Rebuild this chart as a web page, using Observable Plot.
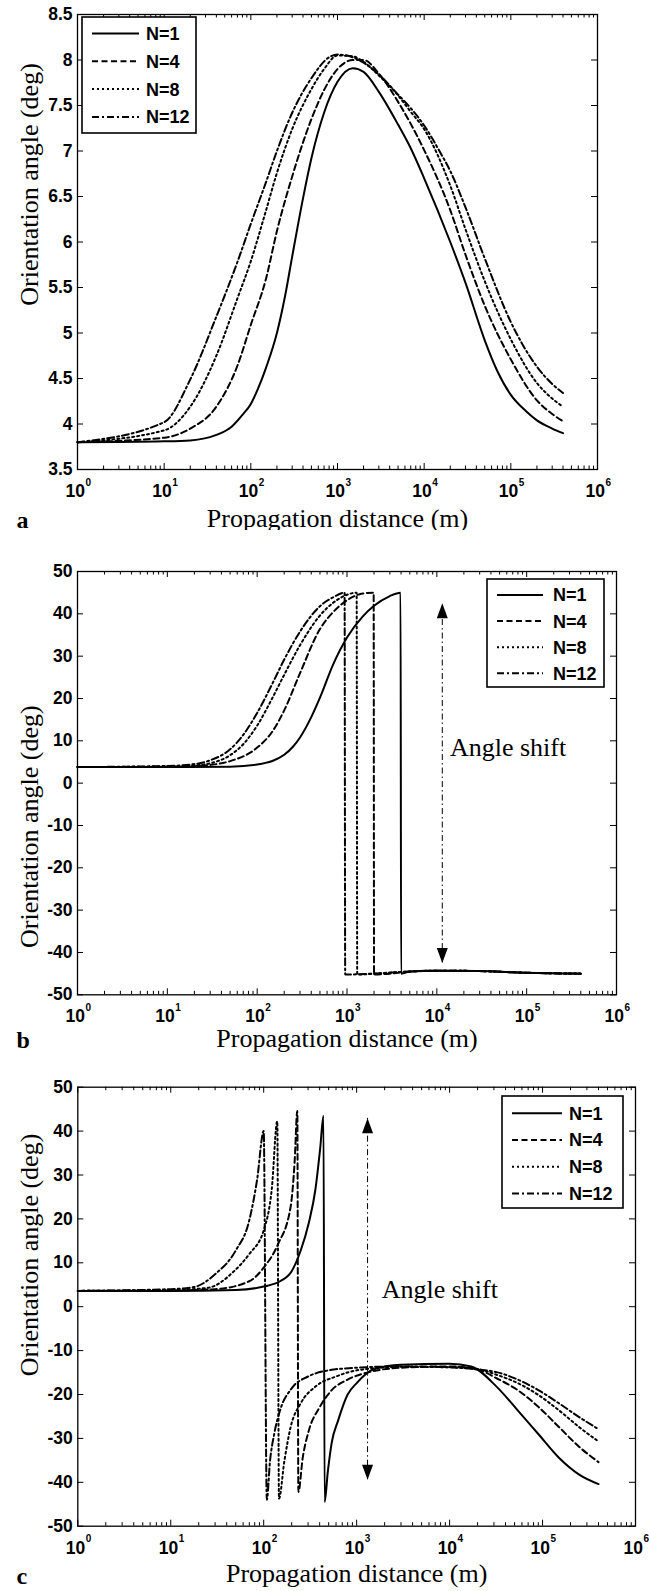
<!DOCTYPE html>
<html><head><meta charset="utf-8">
<script src="https://cdn.jsdelivr.net/npm/d3@7"></script>
<script src="https://cdn.jsdelivr.net/npm/@observablehq/plot@0.6"></script>
<style>
body{margin:0;background:#fff;}
#wrap{position:relative;width:649px;height:1591px;overflow:hidden;background:#fff}
#wrap svg{position:absolute;left:0;}
</style></head><body><div id="wrap"></div>
<script>
// ---------- shared ----------
const seriesNames = ["N=1", "N=4", "N=8", "N=12"];
const xMajor = [1, 10, 100, 1000, 1e4, 1e5, 1e6];
const xExponents = ["0", "1", "2", "3", "4", "5", "6"];
const xMinor = [];
for (let d = 1; d < 1e6; d *= 10) for (let m = 2; m <= 9; m++) xMinor.push(d * m);
const xTitle = "Propagation distance (m)";
const yTitle = "Orientation angle (deg)";
const annoText = "Angle shift";

// ---------- panel a ----------
const aTicks = [3.5, 4, 4.5, 5, 5.5, 6, 6.5, 7, 7.5, 8, 8.5];
const aN1x = [1, 10, 20, 40, 60, 80, 100, 120, 150, 200, 250, 300, 400, 500, 700, 1000, 1500, 2000, 3000, 5000, 7000, 1e4, 2e4, 3e4, 5e4, 7e4, 1e5, 1.5e5, 2e5, 3e5, 4e5];
const aN1y = [3.80, 3.81, 3.82, 3.88, 3.97, 4.10, 4.22, 4.38, 4.62, 5.00, 5.42, 5.84, 6.48, 6.92, 7.42, 7.76, 7.91, 7.87, 7.65, 7.29, 7.03, 6.70, 6.00, 5.55, 4.92, 4.58, 4.32, 4.14, 4.04, 3.95, 3.90];
const aN4x = [1, 10, 20, 40, 70, 100, 150, 200, 300, 500, 700, 1000, 1500, 2000, 3000, 5000, 1e4, 2e4, 3e4, 5e4, 1e5, 2e5, 3e5, 4e5];
const aN4y = [3.80, 3.85, 3.95, 4.19, 4.64, 5.09, 5.60, 6.12, 6.72, 7.35, 7.67, 7.90, 8.00, 8.00, 7.85, 7.54, 7.01, 6.35, 5.86, 5.30, 4.71, 4.26, 4.11, 4.03];
const aN8x = [1, 10, 20, 40, 70, 100, 150, 200, 300, 500, 700, 1000, 1500, 2000, 3000, 5000, 7000, 1e4, 2e4, 3e4, 5e4, 1e5, 2e5, 3e5, 4e5];
const aN8y = [3.80, 3.93, 4.19, 4.75, 5.38, 5.79, 6.35, 6.76, 7.24, 7.68, 7.90, 8.05, 8.04, 7.98, 7.83, 7.61, 7.43, 7.24, 6.62, 6.14, 5.57, 4.93, 4.45, 4.28, 4.19];
const aN12x = [1, 10, 20, 40, 70, 100, 150, 200, 300, 500, 800, 1000, 1500, 2000, 3000, 5000, 7000, 1e4, 1.5e4, 2e4, 3e4, 5e4, 1e5, 2e5, 3e5, 4e5];
const aN12y = [3.80, 4.02, 4.49, 5.18, 5.78, 6.20, 6.66, 7.00, 7.42, 7.80, 8.03, 8.06, 8.03, 7.97, 7.84, 7.62, 7.47, 7.28, 7.00, 6.78, 6.38, 5.82, 5.12, 4.63, 4.44, 4.34];

// ---------- panel b ----------
const bTicks = [-50, -40, -30, -20, -10, 0, 10, 20, 30, 40, 50];
const bN1x = [1, 10, 50, 100, 150, 200, 250, 300, 400, 500, 700, 1000, 1500, 2000, 3000, 3950, 4000, 5000, 1e4, 3e4, 1e5, 4e5];
const bN1y = [3.8, 3.8, 3.9, 4.4, 5.3, 6.7, 8.6, 10.8, 15.6, 20.2, 28.0, 34.4, 39.4, 41.9, 44.2, 45.0, -45.0, -44.5, -44.3, -44.4, -44.8, -45.0];
const bN4x = [1, 10, 20, 30, 50, 100, 150, 200, 300, 500, 700, 1000, 1500, 1980, 2000, 3000, 4000, 1e4, 3e4, 1e5, 4e5];
const bN4y = [3.8, 3.85, 4.0, 4.3, 5.2, 8.4, 12.4, 17.2, 26.0, 36.4, 40.4, 43.2, 44.8, 45.0, -45.2, -45.0, -44.7, -44.3, -44.4, -44.8, -45.0];
const bN8x = [1, 10, 20, 30, 50, 70, 100, 150, 200, 300, 500, 700, 1000, 1280, 1300, 2000, 4000, 1e4, 3e4, 1e5, 4e5];
const bN8y = [3.8, 3.95, 4.2, 4.7, 6.6, 9.2, 13.6, 20.4, 25.6, 32.6, 39.6, 42.6, 44.5, 45.0, -45.2, -45.0, -44.6, -44.3, -44.4, -44.8, -45.0];
const bN12x = [1, 10, 20, 30, 50, 70, 100, 150, 200, 300, 500, 700, 940, 955, 2000, 4000, 1e4, 3e4, 1e5, 4e5];
const bN12y = [3.8, 4.05, 4.5, 5.4, 8.0, 11.4, 16.6, 23.8, 29.2, 35.8, 41.8, 43.9, 45.0, -45.2, -45.0, -44.6, -44.3, -44.4, -44.8, -45.0];
const bArrow = [{x: 1.15e4, top: 42.5, bottom: -42.5}];
const bLabel = [{x: 1.4e4, y: 6.5}];

// ---------- panel c ----------
const cTicks = [-50, -40, -30, -20, -10, 0, 10, 20, 30, 40, 50];
const cN1x = [1, 10, 50, 100, 150, 200, 250, 305, 360, 405, 440, 452, 490, 540, 630, 800, 1000, 1500, 3000, 1e4, 1.7e4, 3.2e4, 5.4e4, 9e4, 1.5e5, 2.5e5, 4e5];
const cN1y = [3.6, 3.6, 3.8, 4.6, 5.8, 8.1, 12.8, 19.0, 26.7, 36.0, 43.5, -44.5, -37.5, -30.9, -26.0, -20.0, -17.4, -14.3, -13.2, -13.0, -13.6, -18.2, -23.6, -29.0, -34.4, -38.3, -40.4];
const cN4x = [1, 10, 30, 70, 100, 143, 195, 215, 230, 236, 263, 305, 400, 540, 800, 1500, 3000, 1e4, 2e4, 3.2e4, 5.4e4, 9e4, 1.5e5, 2.5e5, 4e5];
const cN4y = [3.6, 3.7, 4.0, 5.8, 8.9, 14.3, 22.8, 32.9, 44.6, -42.2, -34.4, -28.3, -22.9, -19.0, -16.6, -14.7, -13.9, -13.6, -14.3, -16.3, -19.0, -22.8, -27.4, -32.0, -35.4];
const cN8x = [1, 10, 25, 48, 70, 100, 122, 140, 146, 167, 195, 250, 360, 600, 1000, 3000, 1e4, 2e4, 3.2e4, 5.4e4, 9e4, 1.5e5, 2.5e5, 4e5];
const cN8y = [3.6, 3.8, 4.3, 8.1, 12.0, 17.4, 26.7, 42.2, -43.7, -35.1, -27.4, -22.0, -18.2, -15.9, -14.5, -13.7, -13.8, -14.2, -15.5, -17.4, -20.1, -23.6, -27.5, -30.7];
const cN12x = [1, 10, 18, 30, 50, 70, 85, 100, 108, 117, 130, 150, 200, 300, 500, 1000, 3000, 1e4, 2e4, 3.2e4, 5.4e4, 9e4, 1.5e5, 2.5e5, 4e5];
const cN12y = [3.6, 4.0, 4.5, 7.4, 12.8, 19.7, 29.0, 40.0, -44.0, -35.1, -28.9, -23.6, -18.6, -15.9, -14.5, -13.9, -13.6, -13.8, -14.3, -14.9, -16.6, -19.0, -22.0, -25.2, -27.9];
const cArrow = [{x: 1.31e3, top: 42.9, bottom: -39.4}];
const cLabel = [{x: 1.86e3, y: 1.9}];

// ---------- styling ----------
const SANS = "'Liberation Sans', Arial, Helvetica, sans-serif";
const SERIF = "'Liberation Serif', 'Times New Roman', Times, serif";
const dashes = [null, "6,3.5", "2,3", "7,3,2,3"];
const arrowUp = {draw(ctx) { ctx.moveTo(0, 0); ctx.lineTo(5.5, 15); ctx.lineTo(-5.5, 15); ctx.closePath(); }};
const arrowDown = {draw(ctx) { ctx.moveTo(0, 0); ctx.lineTo(5.5, -15); ctx.lineTo(-5.5, -15); ctx.closePath(); }};

function zip(xs, ys) { return xs.map((x, i) => ({x, y: ys[i]})); }

function panel(c) {
  const W = 649;
  const fw = W - c.ml - c.mr, fh = c.height - c.mt - c.mb;
  const marks = [];
  c.series.forEach((d, i) => marks.push(Plot.line(d, {x: "x", y: "y", stroke: "black", strokeWidth: 2, strokeDasharray: dashes[i], curve: "monotone-x"})));
  if (c.arrow) {
    marks.push(Plot.ruleX(c.arrow, {x: "x", y1: "bottom", y2: "top", stroke: "black", strokeWidth: 1, strokeDasharray: "6,3,1.5,3"}));
    marks.push(Plot.dot(c.arrow, {x: "x", y: "top", symbol: arrowUp, fill: "black", stroke: null}));
    marks.push(Plot.dot(c.arrow, {x: "x", y: "bottom", symbol: arrowDown, fill: "black", stroke: null}));
    marks.push(Plot.text(c.label, {x: "x", y: "y", text: () => annoText, textAnchor: "start", lineAnchor: "bottom", fontSize: 26, fontFamily: SERIF, fill: "black"}));
  }
  // inward ticks on all four sides
  marks.push(Plot.tickY(c.yTicks, {y: d => d, insetRight: fw - 6, stroke: "black"}));
  marks.push(Plot.tickY(c.yTicks, {y: d => d, insetLeft: fw - 6, stroke: "black"}));
  marks.push(Plot.tickX(xMajor, {x: d => d, insetTop: fh - 6, stroke: "black"}));
  marks.push(Plot.tickX(xMajor, {x: d => d, insetBottom: fh - 6, stroke: "black"}));
  marks.push(Plot.tickX(xMinor, {x: d => d, insetTop: fh - 3.5, stroke: "black"}));
  marks.push(Plot.tickX(xMinor, {x: d => d, insetBottom: fh - 3.5, stroke: "black"}));
  marks.push(Plot.frame({stroke: "black", strokeWidth: 1.3}));
  // y tick labels
  marks.push(Plot.axisY({ticks: c.yTicks, tickSize: 0, tickPadding: 5, tickFormat: d => String(d), label: null,
    fontSize: 17.5, fontWeight: "bold", fontFamily: SANS, fill: "black"}));
  // x tick labels 10^k
  marks.push(Plot.text(xMajor, {x: d => d, text: () => "10", frameAnchor: "bottom", textAnchor: "end", lineAnchor: "bottom",
    dx: 7.5, dy: 27.5, fontSize: 17.5, fontWeight: "bold", fontFamily: SANS, fill: "black"}));
  marks.push(Plot.text(xMajor, {x: d => d, text: (d, i) => xExponents[i], frameAnchor: "bottom", textAnchor: "start", lineAnchor: "bottom",
    dx: 8, dy: 16, fontSize: 10, fontWeight: "bold", fontFamily: SANS, fill: "black"}));
  // titles
  marks.push(Plot.text([xTitle], {text: d => d, frameAnchor: "bottom", lineAnchor: "bottom", dy: c.xTitleDy,
    fontSize: 26, fontFamily: SERIF, fill: "black"}));
  marks.push(Plot.text([yTitle], {text: d => d, frameAnchor: "left", rotate: -90, lineAnchor: "bottom", textAnchor: "middle",
    dx: 37 - c.ml, dy: c.yTitleDy, fontSize: 26, fontFamily: SERIF, fill: "black"}));
  marks.push(Plot.text([c.tag], {text: d => d, frameAnchor: "bottom-left", textAnchor: "start", lineAnchor: "bottom",
    dx: 16 - c.ml, dy: c.tagDy, fontSize: 24, fontWeight: "bold", fontFamily: SERIF, fill: "black"}));

  const svg = Plot.plot({
    width: W, height: c.height,
    marginTop: c.mt, marginBottom: c.mb, marginLeft: c.ml, marginRight: c.mr,
    x: {type: "log", domain: [1, 1e6], axis: null},
    y: {domain: c.yDomain},
    style: {background: "white", color: "black", overflow: "visible"},
    marks
  });
  svg.style.top = c.top + "px";
  // legend
  const L = c.legend;
  const g = d3.select(svg).append("g").attr("text-anchor", "start");
  g.append("rect").attr("x", L.x).attr("y", L.y).attr("width", L.w).attr("height", L.h)
    .attr("fill", "white").attr("stroke", "black").attr("stroke-width", 1.6);
  seriesNames.forEach((name, i) => {
    const yy = L.row0 + i * L.step;
    g.append("line").attr("x1", L.lx1).attr("x2", L.lx2).attr("y1", yy).attr("y2", yy)
      .attr("stroke", "black").attr("stroke-width", 2).attr("stroke-dasharray", dashes[i]);
    g.append("text").attr("x", L.tx).attr("y", yy).attr("dy", "0.36em").attr("text-anchor", "start").text(name)
      .attr("font-family", SANS).attr("font-weight", "bold").attr("font-size", 18).attr("fill", "black");
  });
  document.getElementById("wrap").appendChild(svg);
}

panel({
  top: 0, height: 530, mt: 14, mb: 61, ml: 77, mr: 52,
  yDomain: [3.5, 8.5], yTicks: aTicks, tag: "a",
  series: [zip(aN1x, aN1y), zip(aN4x, aN4y), zip(aN8x, aN8y), zip(aN12x, aN12y)],
  xTitleDy: 57.5, yTitleDy: -57.5, tagDy: 58,
  legend: {x: 82, y: 17, w: 114, h: 116, lx1: 92, lx2: 139, tx: 146, row0: 33.5, step: 27.8}
});
panel({
  top: 530, height: 530, mt: 41, mb: 65.7, ml: 77, mr: 33,
  yDomain: [-50, 50], yTicks: bTicks, tag: "b",
  series: [zip(bN1x, bN1y), zip(bN4x, bN4y), zip(bN8x, bN8y), zip(bN12x, bN12y)],
  arrow: bArrow, label: bLabel,
  xTitleDy: 52.5, yTitleDy: 43.5, tagDy: 52.7,
  legend: {x: 487, y: 49, w: 117, h: 108, lx1: 497, lx2: 543, tx: 553, row0: 65, step: 26.1}
});
panel({
  top: 1060, height: 531, mt: 26.7, mb: 65.3, ml: 77.3, mr: 14,
  yDomain: [-50, 50], yTicks: cTicks, tag: "c",
  series: [zip(cN1x, cN1y), zip(cN4x, cN4y), zip(cN8x, cN8y), zip(cN12x, cN12y)],
  arrow: cArrow, label: cLabel,
  xTitleDy: 56, yTitleDy: -51.7, tagDy: 58,
  legend: {x: 502, y: 36, w: 121, h: 112, lx1: 512, lx2: 562, tx: 569, row0: 53.3, step: 26.7}
});
</script>
</body></html>
